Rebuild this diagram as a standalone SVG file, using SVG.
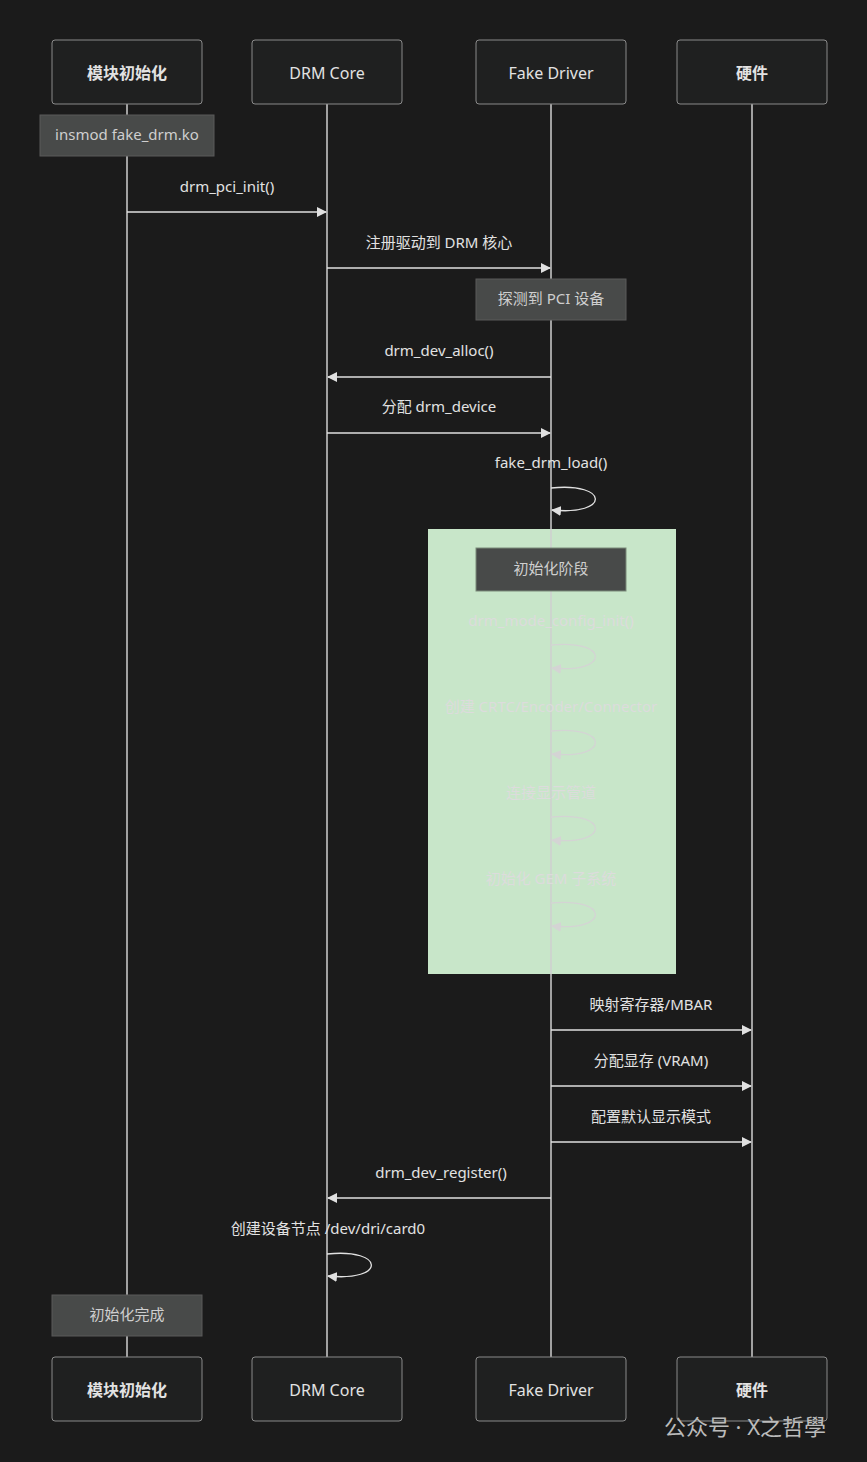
<svg xmlns="http://www.w3.org/2000/svg" width="867" height="1462" viewBox="0 0 867 1462">
<style>
text{font-family:"Noto Sans","Noto Sans CJK SC",sans-serif;font-size:15px;text-anchor:middle;fill:#e2e2e2}
.actor rect{fill:#1f2020;stroke:#8a8a8a;stroke-width:1}
.actor text{font-size:16px}
.bold{font-weight:bold}
.note rect{fill:#484a49;stroke:#5a5a5a}
.note text{fill:#cfcfcf}
.life{stroke:#cfcfcf;stroke-width:1.5}
.msg{stroke:#e0e0e0;stroke-width:1.3;fill:none;marker-end:url(#ah)}
.faint{fill:#dcdcdc}
.fl{stroke:#d4d4d4;stroke-width:1.3;fill:none;marker-end:url(#ahf)}
</style>
<defs>
<marker id="ah" markerWidth="10" markerHeight="10" refX="9" refY="5" orient="auto" markerUnits="userSpaceOnUse"><path d="M0,0 L10,5 L0,10z" fill="#e0e0e0"/></marker>
<marker id="ahf" markerWidth="10" markerHeight="10" refX="9" refY="5" orient="auto" markerUnits="userSpaceOnUse"><path d="M0,0 L10,5 L0,10z" fill="#d4d4d4"/></marker>
</defs>
<rect width="867" height="1462" fill="#1b1b1b"/>
<rect x="428" y="529" width="248" height="445" fill="#c8e6c9"/>
<g id="lifelines">
<line class="life" x1="127" y1="104" x2="127" y2="1357"/>
<line class="life" x1="327" y1="104" x2="327" y2="1357"/>
<line class="life" x1="551" y1="104" x2="551" y2="1357"/>
<line class="life" x1="752" y1="104" x2="752" y2="1357"/>
</g>
<g id="actor-top-init" class="actor"><rect x="52" y="40" width="150" height="64" rx="3"/><text x="127" y="79" class="bold">模块初始化</text></g>
<g id="actor-top-core" class="actor"><rect x="252" y="40" width="150" height="64" rx="3"/><text x="327" y="79">DRM Core</text></g>
<g id="actor-top-driver" class="actor"><rect x="476" y="40" width="150" height="64" rx="3"/><text x="551" y="79">Fake Driver</text></g>
<g id="actor-top-hw" class="actor"><rect x="677" y="40" width="150" height="64" rx="3"/><text x="752" y="79" class="bold">硬件</text></g>
<g id="actor-bot-init" class="actor"><rect x="52" y="1357" width="150" height="64" rx="3"/><text x="127" y="1396" class="bold">模块初始化</text></g>
<g id="actor-bot-core" class="actor"><rect x="252" y="1357" width="150" height="64" rx="3"/><text x="327" y="1396">DRM Core</text></g>
<g id="actor-bot-driver" class="actor"><rect x="476" y="1357" width="150" height="64" rx="3"/><text x="551" y="1396">Fake Driver</text></g>
<g id="actor-bot-hw" class="actor"><rect x="677" y="1357" width="150" height="64" rx="3"/><text x="752" y="1396" class="bold">硬件</text></g>
<g id="note-insmod" class="note"><rect x="40" y="115" width="174" height="41"/><text x="127" y="140">insmod fake_drm.ko</text></g>
<g id="note-probe" class="note"><rect x="476" y="279" width="150" height="41"/><text x="551" y="304">探测到 PCI 设备</text></g>
<g id="note-phase" class="note"><rect x="476" y="548" width="150" height="43" style="stroke:#7a8a7a"/><text x="551" y="574">初始化阶段</text></g>
<g id="note-done" class="note"><rect x="52" y="1295" width="150" height="41"/><text x="127" y="1320">初始化完成</text></g>
<g id="connectors">
<text x="227" y="192">drm_pci_init()</text><line class="msg" x1="127" y1="212" x2="326" y2="212"/>
<text x="439" y="248">注册驱动到 DRM 核心</text><line class="msg" x1="327" y1="268" x2="550" y2="268"/>
<text x="439" y="356">drm_dev_alloc()</text><line class="msg" x1="551" y1="377" x2="328" y2="377"/>
<text x="439" y="412">分配 drm_device</text><line class="msg" x1="327" y1="433" x2="550" y2="433"/>
<text x="551" y="468">fake_drm_load()</text><path class="msg" d="M551,488 C610,482 610,516 552,510"/>
<text x="551" y="626" class="faint">drm_mode_config_init()</text><path class="fl" d="M551,645 C610,639 610,674 552,668"/>
<text x="551" y="712" class="faint">创建 CRTC/Encoder/Connector</text><path class="fl" d="M551,731 C610,725 610,760 552,754"/>
<text x="551" y="798" class="faint">连接显示管道</text><path class="fl" d="M551,817 C610,811 610,846 552,840"/>
<text x="551" y="884" class="faint">初始化 GEM 子系统</text><path class="fl" d="M551,903 C610,897 610,932 552,926"/>
<text x="651" y="1010">映射寄存器/MBAR</text><line class="msg" x1="551" y1="1030" x2="751" y2="1030"/>
<text x="651" y="1066">分配显存 (VRAM)</text><line class="msg" x1="551" y1="1086" x2="751" y2="1086"/>
<text x="651" y="1122">配置默认显示模式</text><line class="msg" x1="551" y1="1142" x2="751" y2="1142"/>
<text x="441" y="1178">drm_dev_register()</text><line class="msg" x1="551" y1="1198" x2="328" y2="1198"/>
<text x="328" y="1234">创建设备节点 /dev/dri/card0</text><path class="msg" d="M327,1254 C386,1248 386,1282 328,1276"/>
</g>
<text x="745" y="1435" style="font-size:22px;fill:#bbbbbb">公众号 · X之哲學</text>
</svg>
